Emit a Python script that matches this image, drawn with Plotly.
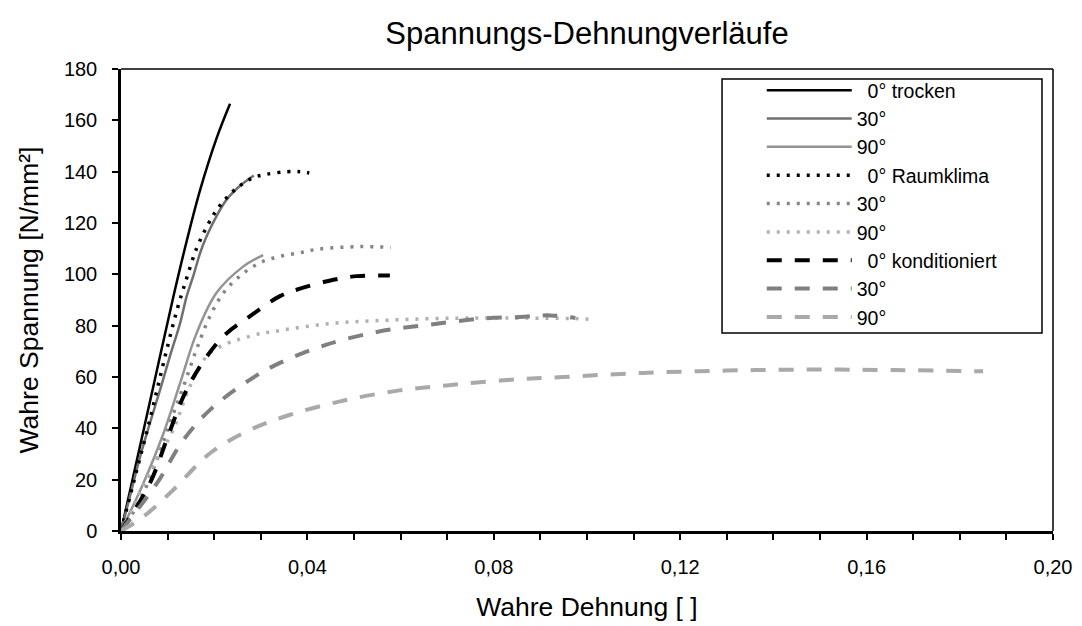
import plotly.graph_objects as go

# ---- data ----
trocken_0_x = [0, 0.0026, 0.0069, 0.0112, 0.0141, 0.0170, 0.0205, 0.0234]
trocken_0_y = [0, 21, 56, 91, 113, 133, 153, 166.5]

trocken_30_x = [0, 0.0019, 0.0041, 0.0062, 0.0084, 0.0105, 0.0127, 0.0141, 0.0155, 0.017, 0.0184, 0.0205, 0.0227, 0.0255, 0.0285]
trocken_30_y = [0, 13.4, 29, 42, 55.1, 68.1, 81.1, 91.5, 99.3, 108.4, 114.9, 122.7, 129.2, 134.4, 138.5]

trocken_90_x = [0, 0.0048, 0.0091, 0.0127, 0.0162, 0.0205, 0.0262, 0.0305]
trocken_90_y = [0, 18.6, 38, 57.7, 77, 92.8, 103, 107.5]

raum_0_x = [0, 0.002, 0.004, 0.006, 0.008, 0.010, 0.012, 0.014, 0.0162, 0.0184, 0.0205, 0.023, 0.0255, 0.0284, 0.0313, 0.0356, 0.0384, 0.0404]
raum_0_y = [0, 14, 28, 42, 57, 72, 86, 98, 110, 118.5, 125, 130.5, 134.5, 137.7, 139, 140, 140, 139.5]

raum_30_x = [0, 0.0041, 0.0077, 0.0105, 0.0134, 0.0162, 0.0191, 0.022, 0.0255, 0.0298, 0.0341, 0.0384, 0.0423, 0.0513, 0.0579]
raum_30_y = [0, 12, 27.7, 42, 56.3, 70.7, 83.7, 92.8, 99.3, 104.5, 107, 108.4, 109.8, 110.8, 110.5]

raum_90_x = [0, 0.0062, 0.0112, 0.0148, 0.0191, 0.0277, 0.0341, 0.0448, 0.0556, 0.0663, 0.077, 0.0985, 0.1005]
raum_90_y = [0, 22.6, 39.4, 56.4, 69.4, 75.9, 78.1, 80.8, 82, 82.7, 83, 82.7, 82.5]

kond_0_x = [0, 0.0062, 0.0098, 0.0134, 0.017, 0.022, 0.0277, 0.0341, 0.0384, 0.0445, 0.0506, 0.0577]
kond_0_y = [0, 18.6, 35.5, 52.4, 64.2, 75.9, 83.7, 91.5, 94.4, 97.4, 99.3, 99.5]

kond_30_x = [0, 0.0077, 0.0134, 0.0191, 0.0277, 0.0341, 0.0441, 0.0556, 0.0663, 0.077, 0.0856, 0.0921, 0.0975]
kond_30_y = [0, 18.6, 35.5, 47.2, 59, 65.5, 72.6, 77.8, 80.4, 82.7, 83.4, 84, 83]

kond_90_x = [0, 0.0048, 0.0112, 0.0191, 0.0277, 0.0363, 0.047, 0.0584, 0.0699, 0.082, 0.0949, 0.1121, 0.13, 0.1479, 0.1657, 0.185]
kond_90_y = [0, 5.6, 16, 30.3, 39.4, 45.3, 50.5, 54.4, 56.7, 58.7, 60, 61.6, 62.5, 62.9, 62.7, 62.2]

names = ["\u00a0\u00a00° trocken", "30°", "90°",
         "\u00a0\u00a00° Raumklima", "30°", "90°",
         "\u00a0\u00a00° konditioniert", "30°", "90°"]

FONT = "Liberation Sans, Arial, sans-serif"
DOT = "3px,7px"
DASH = "15px,13px"

series = [
    (trocken_0_x, trocken_0_y, "#000000", "solid", 2.5),
    (trocken_30_x, trocken_30_y, "#6f6f6f", "solid", 2.5),
    (trocken_90_x, trocken_90_y, "#949494", "solid", 2.5),
    (raum_0_x, raum_0_y, "#000000", DOT, 3.5),
    (raum_30_x, raum_30_y, "#858585", DOT, 3.5),
    (raum_90_x, raum_90_y, "#b0b0b0", DOT, 3.5),
    (kond_0_x, kond_0_y, "#000000", DASH, 4),
    (kond_30_x, kond_30_y, "#808080", DASH, 4),
    (kond_90_x, kond_90_y, "#a9a9a9", DASH, 4),
]

fig = go.Figure()
for (xs, ys, col, dash, w), nm in zip(series, names):
    fig.add_trace(go.Scatter(x=xs, y=ys, mode="lines", name=nm,
                             line=dict(color=col, dash=dash, width=w, shape="spline", smoothing=1.0)))

fig.update_layout(
    width=1082, height=626,
    margin=dict(l=121, r=29, t=69, b=95, autoexpand=False),
    paper_bgcolor="white", plot_bgcolor="white",
    font=dict(family=FONT, size=20, color="black"),
    title=dict(text="Spannungs-Dehnungverläufe", x=0.5, xref="paper", xanchor="center",
               y=0.947, yref="container", yanchor="middle",
               font=dict(family=FONT, size=31, color="black")),
    showlegend=True,
    legend=dict(x=0.6875, y=0.9957, xanchor="left", yanchor="top",
                bgcolor="rgba(0,0,0,0)", borderwidth=0,
                font=dict(family=FONT, size=19.5, color="black"),
                itemwidth=85, tracegroupgap=0),
    xaxis=dict(range=[0, 0.20], dtick=0.04, tick0=0, tickformat=".2f",
               automargin=False,
               showgrid=False, zeroline=False,
               showline=True, linecolor="black", linewidth=2.5,
               ticks="outside", ticklen=6, tickwidth=1.5, tickcolor="black",
               minor=dict(dtick=0.01, ticks="outside", ticklen=6, tickwidth=1.5, tickcolor="black", showgrid=False),
               ticklabelstandoff=10,
               title=dict(text="Wahre Dehnung [ ]", font=dict(family=FONT, size=26.5), standoff=21),
               tickfont=dict(size=20)),
    yaxis=dict(range=[0, 180], dtick=20, tick0=0,
               automargin=False,
               showgrid=False, zeroline=False,
               showline=True, linecolor="black", linewidth=2.5,
               ticks="outside", ticklen=6, tickwidth=1.5, tickcolor="black",
               ticklabelstandoff=11,
               title=dict(text="Wahre Spannung [N/mm²]", font=dict(family=FONT, size=26.5), standoff=18),
               tickfont=dict(size=20)),
    separators=",.",
)

# top and right frame lines of the plot area
fig.add_shape(type="line", xref="paper", yref="paper", x0=0, x1=1, y0=1, y1=1,
              line=dict(color="black", width=1.5))
fig.add_shape(type="line", xref="paper", yref="paper", x0=1, x1=1, y0=0, y1=1,
              line=dict(color="black", width=1.5))
# legend frame
fig.add_shape(type="rect", xref="paper", yref="paper", x0=0.6449, x1=0.9882, y0=0.4286, y1=0.9784,
              line=dict(color="black", width=1.5), fillcolor="white", layer="above")

fig.write_html("out.html")
